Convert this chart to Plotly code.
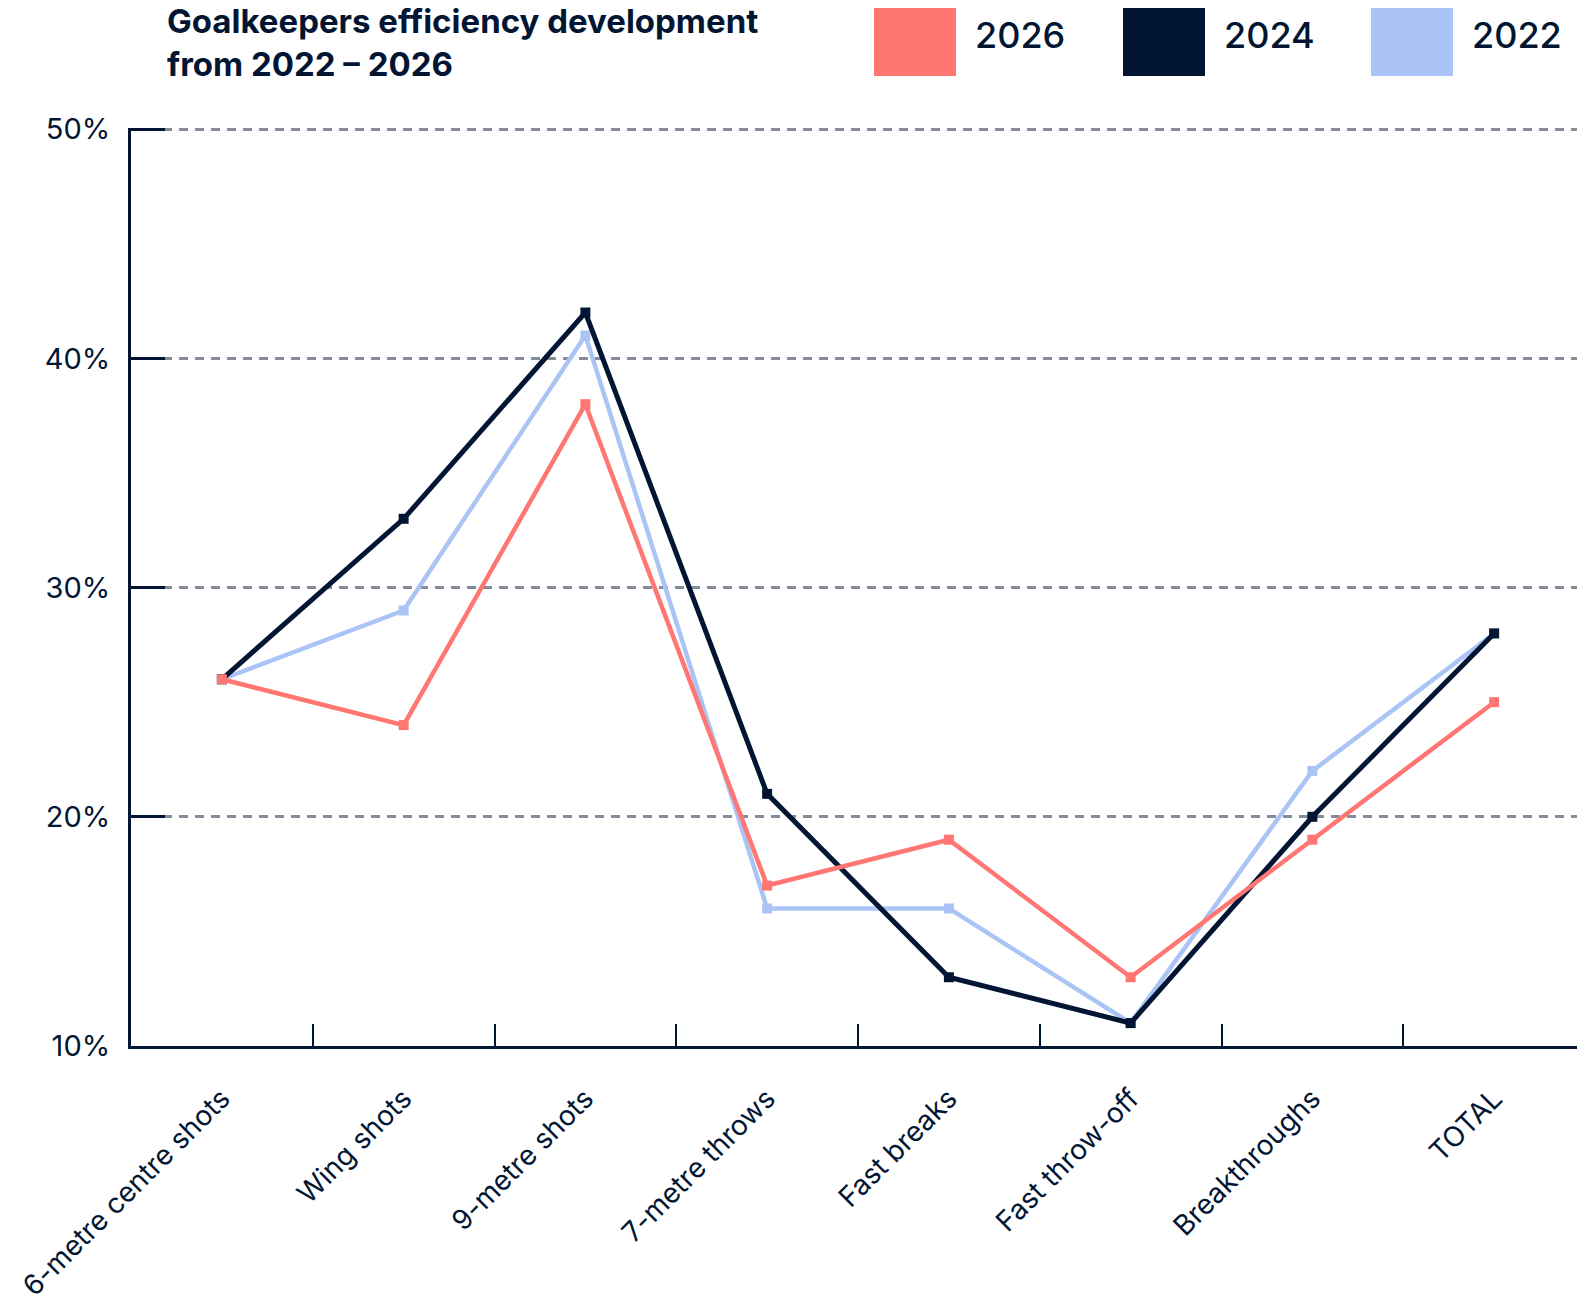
import plotly.graph_objects as go

categories = ["6-metre centre shots", "Wing shots", "9-metre shots", "7-metre throws",
              "Fast breaks", "Fast throw-off", "Breakthroughs", "TOTAL"]
values_2026 = [26, 24, 38, 17, 19, 13, 19, 25]
values_2024 = [26, 33, 42, 21, 13, 11, 20, 28]
values_2022 = [26, 29, 41, 16, 16, 11, 22, 28]
y_ticks = [10, 20, 30, 40, 50]
y_tick_labels = ["10%", "20%", "30%", "40%", "50%"]
series_names = ["2026", "2024", "2022"]

NAVY = "#021633"
RED = "#FF7672"
LIGHT = "#A9C4F5"
GRID = "#868B9B"
FONT = "Inter"

# page offset of the plotly div (default body margin)
OFF = 8
PLOT_L, PLOT_R, PLOT_T, PLOT_B = 131, 1585, 128, 1046   # plot area in page px
W = PLOT_R - OFF
L = PLOT_L - OFF
T = PLOT_T - OFF
PH = PLOT_B - PLOT_T
B = 255
H = T + PH + B
PW = PLOT_R - PLOT_L

def px(x):
    return (x - PLOT_L) / PW

def py(y):
    return (PLOT_B - y) / PH

fig = go.Figure()
for name, vals, col, lw in [("2022", values_2022, LIGHT, 4.5),
                            ("2024", values_2024, NAVY, 5),
                            ("2026", values_2026, RED, 4.5)]:
    fig.add_trace(go.Scatter(
        x=categories, y=vals, name=name, mode="lines+markers",
        line=dict(color=col, width=lw),
        marker=dict(symbol="square", size=10, color=col),
        showlegend=False, cliponaxis=False))

# custom legend: big squares + labels
legend_items = [("2026", RED, 874), ("2024", NAVY, 1123), ("2022", LIGHT, 1371)]
shapes = []
annotations = []
for name, col, x0 in legend_items:
    shapes.append(dict(type="rect", xref="paper", yref="paper",
                       x0=px(x0), x1=px(x0 + 82), y0=py(76), y1=py(-2),
                       fillcolor=col, line=dict(width=0), layer="above"))
    annotations.append(dict(text=name, xref="paper", yref="paper",
                            x=px(x0 + 99), y=py(35), xanchor="left", yanchor="middle",
                            showarrow=False,
                            font=dict(family=FONT, size=36, color=NAVY, weight=500)))

annotations.append(dict(
    text="Goalkeepers efficiency development<br>from 2022 – 2026",
    xref="paper", yref="paper", x=px(166), y=py(0), xanchor="left", yanchor="top",
    align="left", showarrow=False, borderpad=0,
    font=dict(family=FONT, size=33, color=NAVY, weight=700)))

fig.update_layout(
    width=W, height=H,
    margin=dict(l=L, r=0, t=T, b=B, pad=0, autoexpand=False),
    paper_bgcolor="white", plot_bgcolor="white",
    font=dict(family=FONT, color=NAVY),
    shapes=shapes, annotations=annotations,
    xaxis=dict(
        type="category", range=[-0.5, len(categories) - 0.5],
        showline=True, linecolor=NAVY, linewidth=3,
        ticks="inside", tickson="boundaries", ticklen=22, tickwidth=2, tickcolor=NAVY,
        tickangle=-45, tickfont=dict(family=FONT, size=28, color=NAVY),
        showgrid=False, zeroline=False, ticklabelstandoff=22, automargin=False,
    ),
    yaxis=dict(
        range=[10, 50.05], tickvals=y_ticks, ticktext=y_tick_labels,
        showline=True, linecolor=NAVY, linewidth=3,
        ticks="inside", ticklen=34, tickwidth=2.5, tickcolor=NAVY,
        tickfont=dict(family=FONT, size=29, color=NAVY),
        showgrid=True, gridcolor=GRID, gridwidth=2.5, griddash="9px,7px",
        zeroline=False, ticklabelstandoff=12, layer="above traces", automargin=False,
    ),
)

fig.write_html("out.html")
